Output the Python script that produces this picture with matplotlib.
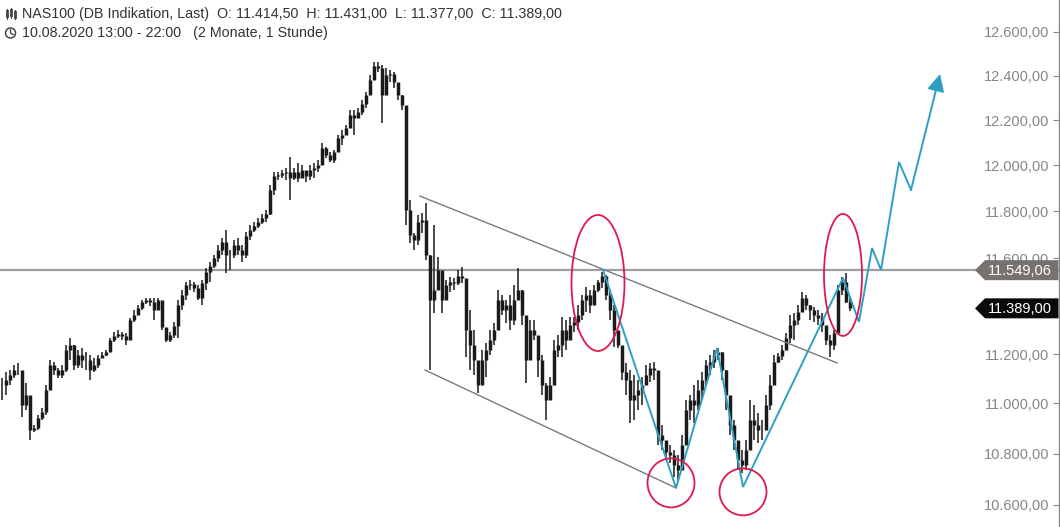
import matplotlib
matplotlib.use("Agg")
import matplotlib.pyplot as plt
import matplotlib.transforms as mtrans
from matplotlib.patches import Ellipse, Polygon
from matplotlib.lines import Line2D
from matplotlib.ticker import FixedLocator, FuncFormatter, NullLocator
import numpy as np

plt.rcParams['font.family'] = ['Liberation Sans', 'DejaVu Sans']

# ---------------- data (hourly candles, NAS100) ----------------
closes = [
    11075, 11095, 11115, 11135, 11135, 10994, 11034, 10894, 10902, 10942, 10966, 11054, 11156, 11135, 11115, 11135,
    11217, 11238, 11156, 11197, 11176, 11176, 11135, 11156, 11184, 11197, 11209, 11258, 11274, 11283, 11274, 11258,
    11341, 11361, 11390, 11416, 11424, 11416, 11382, 11424, 11312, 11258, 11279, 11316, 11403, 11445, 11487, 11491,
    11474, 11432, 11495, 11542, 11567, 11601, 11635, 11669, 11614, 11614, 11656, 11635, 11614, 11694, 11720, 11737,
    11754, 11772, 11789, 11893, 11954, 11958, 11967, 11971, 11945, 11971, 11945, 11980, 11954, 11980, 11989, 12002,
    12077, 12046, 12024, 12059, 12121, 12134, 12166, 12223, 12210, 12237, 12273, 12313, 12381, 12445, 12435, 12313,
    12404, 12408, 12372, 12313, 12268, 11806, 11699, 11677, 11755, 11763, 11614, 11424, 11466, 11550, 11424, 11487,
    11500, 11495, 11525, 11517, 11299, 11238, 11176, 11075, 11176, 11217, 11258, 11299, 11424, 11382, 11403, 11341,
    11424, 11466, 11361, 11176, 11299, 11279, 11176, 11075, 11014, 11075, 11217, 11238, 11299, 11258, 11320, 11333,
    11361, 11424, 11445, 11403, 11466, 11500, 11525, 11445, 11382, 11299, 11238, 11127, 11095, 11014, 11034, 11054,
    11075, 11115, 11143, 11135, 10874, 10854, 10807, 10795, 10755, 10736, 10834, 10974, 11014, 10994, 11054, 11095,
    11156, 11168, 11197, 11209, 11135, 11034, 10914, 10854, 10775, 10755, 10814, 10934, 10914, 10894, 10894, 10994,
    11075, 11168, 11193, 11217, 11266, 11320, 11341, 11374, 11432, 11403, 11382, 11361, 11349, 11320, 11258, 11238,
    11287, 11466, 11500, 11414.5, 11389,
]
highs = [
    11103, 11127, 11135, 11156, 11164, 11127, 11083, 11014, 10914, 10954, 10982, 11075, 11176, 11168, 11143, 11156,
    11238, 11266, 11238, 11217, 11225, 11209, 11197, 11184, 11197, 11209, 11217, 11266, 11291, 11299, 11291, 11287,
    11349, 11382, 11403, 11424, 11432, 11432, 11432, 11432, 11382, 11279, 11291, 11333, 11424, 11466, 11500, 11508,
    11500, 11487, 11508, 11558, 11584, 11614, 11656, 11686, 11720, 11635, 11677, 11686, 11656, 11712, 11741, 11754,
    11772, 11789, 11806, 11914, 11971, 11971, 11980, 11989, 12037, 11989, 12011, 12002, 11971, 12002, 12011, 12024,
    12099, 12081, 12059, 12068, 12134, 12157, 12179, 12246, 12246, 12255, 12291, 12327, 12404, 12463, 12463, 12449,
    12435, 12426, 12417, 12358, 12313, 12068, 11849, 11707, 11785, 11793, 11837, 11614, 11741, 11605, 11466, 11508,
    11521, 11517, 11550, 11563, 11382, 11382, 11299, 11156, 11217, 11246, 11299, 11328, 11466, 11445, 11424, 11445,
    11487, 11558, 11466, 11258, 11341, 11341, 11270, 11197, 11083, 11107, 11258, 11279, 11353, 11341, 11353, 11353,
    11403, 11445, 11479, 11466, 11487, 11508, 11542, 11529, 11466, 11403, 11279, 11176, 11164, 11135, 11115, 11095,
    11107, 11156, 11164, 11168, 10946, 10914, 10842, 10834, 10814, 10795, 10874, 11014, 11034, 11075, 11095, 11127,
    11176, 11197, 11217, 11225, 11209, 11135, 11014, 10934, 10834, 10814, 10854, 11014, 10994, 10962, 10934, 11034,
    11115, 11197, 11205, 11238, 11287, 11361, 11370, 11403, 11458, 11445, 11403, 11395, 11382, 11370, 11299, 11279,
    11299, 11487, 11521, 11538, 11431,
]
lows = [
    11014, 11034, 11075, 11103, 11115, 10946, 10974, 10854, 10886, 10894, 10934, 10954, 11075, 11115, 11103, 11103,
    11127, 11176, 11135, 11143, 11143, 11135, 11095, 11127, 11143, 11184, 11193, 11209, 11250, 11266, 11258, 11238,
    11258, 11333, 11361, 11382, 11407, 11399, 11341, 11399, 11299, 11250, 11250, 11266, 11266, 11382, 11424, 11466,
    11458, 11424, 11403, 11466, 11500, 11558, 11584, 11614, 11538, 11550, 11601, 11614, 11584, 11601, 11677, 11712,
    11729, 11746, 11754, 11785, 11871, 11936, 11945, 11936, 11849, 11936, 11928, 11945, 11928, 11936, 11945, 11971,
    12059, 12033, 12015, 12011, 12068, 12090, 12148, 12179, 12134, 12210, 12223, 12255, 12327, 12404, 12417, 12188,
    12336, 12372, 12345, 12291, 12246, 11742, 11665, 11635, 11656, 11707, 11592, 11135, 11370, 11521, 11370, 11437,
    11458, 11466, 11487, 11495, 11188, 11135, 11115, 11042, 11095, 11107, 11197, 11238, 11341, 11361, 11328, 11299,
    11320, 11424, 11320, 11083, 11238, 11258, 11107, 11034, 10934, 11034, 11176, 11188, 11188, 11217, 11279, 11291,
    11299, 11341, 11374, 11370, 11424, 11458, 11474, 11424, 11341, 11229, 11225, 11095, 11034, 10922, 10934, 10974,
    10994, 11075, 11087, 11095, 10834, 10814, 10775, 10763, 10708, 10689, 10736, 10906, 10934, 10922, 10974, 11014,
    11075, 11115, 11143, 11176, 11095, 10974, 10874, 10814, 10736, 10724, 10736, 10866, 10854, 10842, 10854, 10894,
    10974, 11095, 11164, 11176, 11238, 11246, 11258, 11320, 11382, 11382, 11341, 11333, 11320, 11291, 11238, 11188,
    11217, 11299, 11445, 11410, 11377,
]
ref_level = 11549.06
# 11.400,00 is hidden behind the last-price tag in the reference
y_ticks = [10600, 10800, 11000, 11200, 11600, 11800, 12000, 12200, 12400, 12600]

# drawing-tool anchors (candle index, price)
channel_upper_x = [104.5, 208.75]
channel_upper_y = [11866, 11164]
channel_lower_x = [105.75, 168.5]
channel_lower_y = [11135, 10665]
proj_x = [150.25, 168.5, 178.75, 185.25, 210.25, 214.25, 217.5, 219.75, 224.25, 227.25, 234.5]
proj_y = [11550, 10665, 11225, 10669, 11516, 11333, 11643, 11550, 12015, 11893, 12408]
# ellipses: centre index, centre price, width px, height px
ell_x = [149.0, 167.25, 185.25, 210.25]
ell_y = [11495, 10685, 10650, 11529]
ell_w = [53, 47, 47, 38]
ell_h = [136, 49, 47, 122]

title_line1 = "NAS100 (DB Indikation, Last)"
title_line2 = "10.08.2020 13:00 - 22:00   (2 Monate, 1 Stunde)"


def de(v):
    return f"{v:,.2f}".replace(",", "_").replace(".", ",").replace("_", ".")


W, H = 1060, 527
fig = plt.figure(figsize=(W / 100, H / 100), dpi=100)
ax = fig.add_axes([0, 0, 1058.5 / W, 1])
ax.set_yscale('log')
ax.set_ylim(10514, 12748)
ax.set_xlim(-0.5, 264.125)

n = len(closes)
idx = np.arange(n)
opens = [closes[0]] + closes[:-1]
o = np.array(opens, float)
c = np.array(closes, float)
candle_col = '#1a1a1a'
ax.vlines(idx, lows, highs, color=candle_col, lw=1.1, zorder=3)
ax.vlines(idx, np.minimum(o, c), np.maximum(o, c), color=candle_col, lw=2.5, zorder=3)

# reference level
ax.axhline(ref_level, color='#9e9e9e', lw=1.6, zorder=2)

# channel
ax.plot(channel_upper_x, channel_upper_y, color='#7a7a7a', lw=1.0, zorder=4)
ax.plot(channel_lower_x, channel_lower_y, color='#7a7a7a', lw=1.0, zorder=4)

# projection
blue = '#2e9fc4'
ax.plot(proj_x[:-1], proj_y[:-1], color=blue, lw=1.4, zorder=5, solid_joinstyle='miter')
ax.annotate('', xy=(proj_x[-1], proj_y[-1]), xytext=(proj_x[-2], proj_y[-2]),
            arrowprops=dict(arrowstyle='-|>', color=blue, lw=1.4, mutation_scale=26,
                            shrinkA=0, shrinkB=0), zorder=5)

# ellipses
for cx, cy, w, h in zip(ell_x, ell_y, ell_w, ell_h):
    tr = fig.dpi_scale_trans + mtrans.ScaledTranslation(cx, cy, ax.transData)
    ax.add_patch(Ellipse((0, 0), w / 100, h / 100, transform=tr, fill=False,
                         ec='#e0194c', lw=1.3, zorder=6, clip_on=False))

# axes styling
for s in ['top', 'left', 'bottom']:
    ax.spines[s].set_visible(False)
ax.spines['right'].set_color('#8a8a8a')
ax.spines['right'].set_linewidth(1.0)
ax.set_xticks([])
ax.yaxis.tick_right()
ax.yaxis.set_major_locator(FixedLocator(y_ticks))
ax.yaxis.set_minor_locator(NullLocator())
ax.yaxis.set_major_formatter(FuncFormatter(lambda v, p: de(v)))
ax.tick_params(axis='y', which='major', direction='in', length=4, color='#8a8a8a',
               labelsize=10.5, labelcolor='#878787', pad=-6.5)
for lbl in ax.get_yticklabels():
    lbl.set_horizontalalignment('right')

# price tags
blend = mtrans.blended_transform_factory(ax.transAxes, ax.transData)


def tag(price, face):
    tr = fig.dpi_scale_trans + mtrans.ScaledTranslation(1, price, blend)
    poly = Polygon([(-0.835, 0), (-0.735, 0.1), (0, 0.1), (0, -0.1), (-0.735, -0.1)],
                   closed=True, transform=tr, fc=face, ec='none', zorder=8, clip_on=False)
    ax.add_patch(poly)
    ax.text(-0.07, -0.005, de(price), transform=tr, ha='right', va='center',
            color='white', fontsize=10.5, zorder=9, clip_on=False)


tag(ref_level, '#76726f')
tag(closes[-1], '#0a0a0a')

# header
hdr = (f"{title_line1}  O: {de(opens[-1])}  H: {de(highs[-1])}  "
       f"L: {de(lows[-1])}  C: {de(closes[-1])}")
fig.text(22 / W, 1 - 14 / H, hdr, fontsize=10.3, color='#333333', va='center', ha='left')
fig.text(22 / W, 1 - 33 / H, title_line2, fontsize=10.3, color='#333333', va='center', ha='left')


# small icons (candles + clock)
def fx(x):
    return x / W


def fy(y):
    return 1 - y / H


for xx, y0, y1, b0, b1 in [(6.5, 9, 19, 11, 16), (10.5, 8, 18, 10, 15), (14.5, 10, 19, 12, 17)]:
    fig.add_artist(Line2D([fx(xx), fx(xx)], [fy(y0), fy(y1)], transform=fig.transFigure,
                          color='#444444', lw=0.8))
    fig.add_artist(Line2D([fx(xx), fx(xx)], [fy(b0), fy(b1)], transform=fig.transFigure,
                          color='#444444', lw=2.0))
fig.add_artist(Ellipse((fx(10.5), fy(33)), 10 / W, 10 / H, transform=fig.transFigure,
                       fill=False, ec='#444444', lw=1.1))
fig.add_artist(Line2D([fx(10.5), fx(10.5), fx(13)], [fy(30), fy(33), fy(34.5)],
                      transform=fig.transFigure, color='#444444', lw=1.0))

fig.savefig('out.png', dpi=100, facecolor='white')
